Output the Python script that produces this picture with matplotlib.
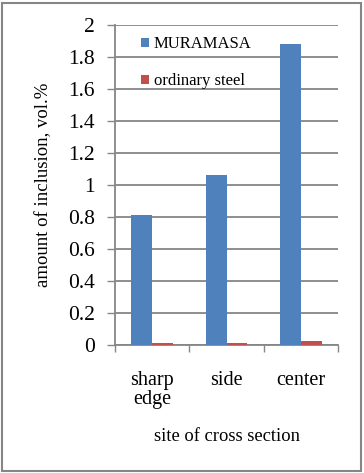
import numpy as np
import matplotlib.pyplot as plt
from matplotlib.patches import Rectangle

# --- data ---
categories = ["sharp\nedge", "side", "center"]
muramasa = [0.81, 1.06, 1.88]
ordinary = [0.013, 0.013, 0.027]
series_names = ["MURAMASA", "ordinary steel"]
y_ticks = [0, 0.2, 0.4, 0.6, 0.8, 1, 1.2, 1.4, 1.6, 1.8, 2]
y_tick_labels = ["0", "0.2", "0.4", "0.6", "0.8", "1", "1.2", "1.4", "1.6", "1.8", "2"]

plt.rcParams['font.family'] = ['Liberation Serif', 'DejaVu Serif']

grey = "#868686"
blue = "#4F81BD"
red = "#C0504D"

fig = plt.figure(figsize=(3.64, 4.73), dpi=100)
ax = fig.add_axes([115 / 364, 128 / 473, 223 / 364, 320 / 473])

x = np.arange(len(categories))
w = 0.28
b1 = ax.bar(x - w / 2, muramasa, width=w, color=blue, zorder=3)
b2 = ax.bar(x + w / 2, ordinary, width=w, color=red, zorder=3)

ax.set_xlim(-0.5, len(categories) - 0.5)
ax.set_ylim(0, 2)
ax.set_yticks(y_ticks)
ax.set_yticklabels(y_tick_labels, fontsize=15.5)
ax.yaxis.grid(True, color=grey, linewidth=1.3, zorder=0)
ax.tick_params(axis='y', length=5.8, width=1.0, color=grey, pad=8.5)

# major ticks at the category boundaries, labels at the centres
ax.set_xticks(np.arange(len(categories) + 1) - 0.5)
ax.set_xticklabels([""] * (len(categories) + 1))
ax.tick_params(axis='x', which='major', length=5, width=1.0, color=grey)
ax.set_xticks(x, minor=True)
ax.set_xticklabels(categories, minor=True, fontsize=14.5, linespacing=0.95, va='top')
ax.tick_params(axis='x', which='minor', length=0, pad=19)

for side in ['top', 'right']:
    ax.spines[side].set_visible(False)
for side in ['left', 'bottom']:
    ax.spines[side].set_color(grey)
    ax.spines[side].set_linewidth(1.3)

ax.set_xlabel("site of cross section", fontsize=13.3, labelpad=0)
ax.xaxis.set_label_coords(0.5, -0.26)
ax.set_ylabel("amount of inclusion, vol.%", fontsize=13.5)
ax.yaxis.set_label_coords(-0.28, 0.5)

ax.legend([b1, b2], series_names, loc='upper left', bbox_to_anchor=(0.05, 1.012),
          frameon=False, fontsize=12, handlelength=0.45, handleheight=0.45,
          handletextpad=0.3, labelspacing=1.25)

fig.patches.append(Rectangle((2 / 364, 2 / 473), 359 / 364, 468 / 473,
                             transform=fig.transFigure, fill=False,
                             edgecolor=grey, linewidth=1.5))

plt.savefig("out.png", dpi=100)
plt.close()
